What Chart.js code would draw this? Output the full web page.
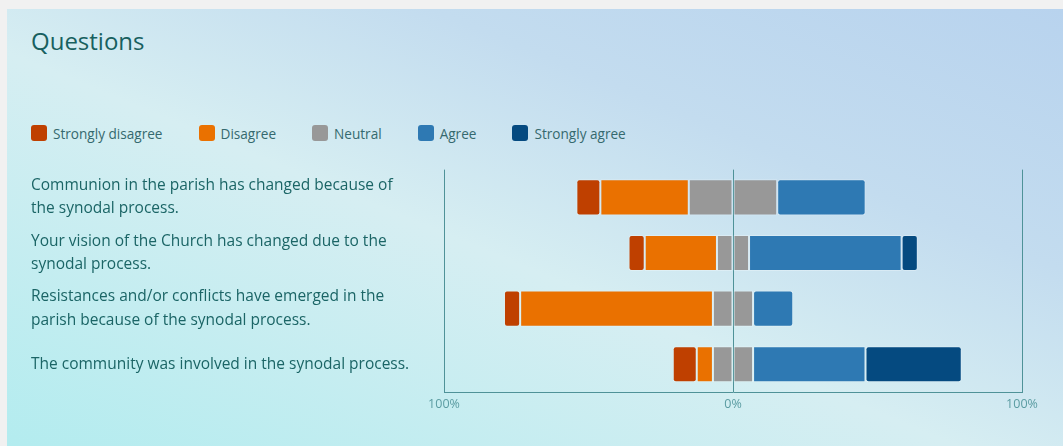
<!DOCTYPE html>
<html>
<head>
<meta charset="utf-8">
<script src="https://cdn.jsdelivr.net/npm/chart.js@4"></script>
<style>
  html, body { margin: 0; padding: 0; background: #f1f1f1; width: 1063px; height: 446px; overflow: hidden; }
  #card {
    position: absolute; left: 7px; top: 9px; width: 1056px; height: 437px;
    background: linear-gradient(to top right, #b3ecef 0%, #d6eef2 45%, #c3dcef 70%, #b8d3ee 100%);
    font-family: "Open Sans", "Noto Sans", sans-serif;
  }
  #title { position: absolute; left: 24px; top: 15px; font-size: 24px; font-weight: 500; color: #17605f; }
  #legend { position: absolute; left: 24px; top: 116px; display: flex; gap: 36px; font-size: 13.6px; color: #35696e; }
  #legend .item { display: flex; align-items: center; height: 16px; }
  #legend .box { width: 16px; height: 16px; border-radius: 3px; margin-right: 6px; }
  #wrap { position: absolute; left: 0; top: 146px; width: 1056px; height: 267px; }
</style>
</head>
<body>
<div id="card">
  <div id="title">Questions</div>
  <div id="legend"></div>
  <div id="wrap"><canvas id="chart"></canvas></div>
</div>
<script>
const categories = [
    ["Communion in the parish has changed because of", "the synodal process."],
    ["Your vision of the Church has changed due to the", "synodal process."],
    ["Resistances and/or conflicts have emerged in the", "parish because of the synodal process."],
    "The community was involved in the synodal process."
];

// percentages per answer
const stronglyDisagree = [8.3, 5.6, 5.6, 8.3];
const disagree = [30.6, 25, 66.7, 5.6];
const neutral = [30.6, 11.1, 13.9, 13.9];
const agree = [30.6, 52.8, 13.9, 38.9];
const stronglyAgree = [0, 5.6, 0, 33.3];

const seriesNames = ["Strongly disagree", "Disagree", "Neutral", "Agree", "Strongly agree"];
const seriesColors = ["#bf4000", "#ea7100", "#989898", "#2e79b3", "#054a80"];

const xTicks = [-100, 0, 100];

// legend (html)
const legendEl = document.getElementById('legend');
for (var i = 0; i < seriesNames.length; i++) {
    const item = document.createElement('div');
    item.className = 'item';
    item.innerHTML = '<span class="box" style="background:' + seriesColors[i] + '"></span>' + seriesNames[i];
    legendEl.appendChild(item);
}

const neg = (arr) => arr.map(v => v ? -v : null);
const pos = (arr) => arr.map(v => v ? v : null);

const barStyle = function (color) {
    return {
        backgroundColor: color,
        borderColor: 'rgba(255,255,255,0.28)',
        borderWidth: 1,
        borderSkipped: false,
        borderRadius: 3,
        barPercentage: 0.65,
        categoryPercentage: 1,
        stack: 'likert'
    };
};

// stacking order matters: neutral halves sit next to 0
const datasets = [
    Object.assign({ label: seriesNames[2], data: neutral.map(v => -v / 2) }, barStyle(seriesColors[2])),
    Object.assign({ label: seriesNames[1], data: neg(disagree) }, barStyle(seriesColors[1])),
    Object.assign({ label: seriesNames[0], data: neg(stronglyDisagree) }, barStyle(seriesColors[0])),
    Object.assign({ label: seriesNames[2], data: neutral.map(v => v / 2) }, barStyle(seriesColors[2])),
    Object.assign({ label: seriesNames[3], data: pos(agree) }, barStyle(seriesColors[3])),
    Object.assign({ label: seriesNames[4], data: pos(stronglyAgree) }, barStyle(seriesColors[4]))
];

const gridColor = '#4f9298';

new Chart(document.getElementById('chart'), {
    type: 'bar',
    data: { labels: categories, datasets: datasets },
    options: {
        indexAxis: 'y',
        responsive: true,
        maintainAspectRatio: false,
        animation: false,
        layout: { padding: { left: 24, top: 5, right: 41, bottom: 0 } },
        plugins: {
            legend: { display: false },
            tooltip: { enabled: false }
        },
        scales: {
            x: {
                stacked: true,
                min: -100,
                max: 100,
                z: 1,
                afterBuildTicks: function (scale) {
                    scale.ticks = xTicks.map(v => ({ value: v }));
                },
                afterFit: function (scale) { scale.height = 30; },
                ticks: {
                    color: '#5b9ca2',
                    font: { family: "'Open Sans', 'Noto Sans', sans-serif", size: 12.5 },
                    padding: 5,
                    maxRotation: 0,
                    callback: function (value) { return Math.abs(value) + '%'; }
                },
                grid: { color: gridColor, lineWidth: 1, drawTicks: false },
                border: { display: true, color: gridColor }
            },
            y: {
                stacked: true,
                afterFit: function (scale) { scale.width = 413; },
                ticks: {
                    crossAlign: 'far',
                    color: '#1b6566',
                    font: { family: "'Open Sans', 'Noto Sans', sans-serif", size: 15.5, lineHeight: 1.5 }
                },
                grid: { display: false },
                border: { display: false }
            }
        }
    }
});
</script>
</body>
</html>
